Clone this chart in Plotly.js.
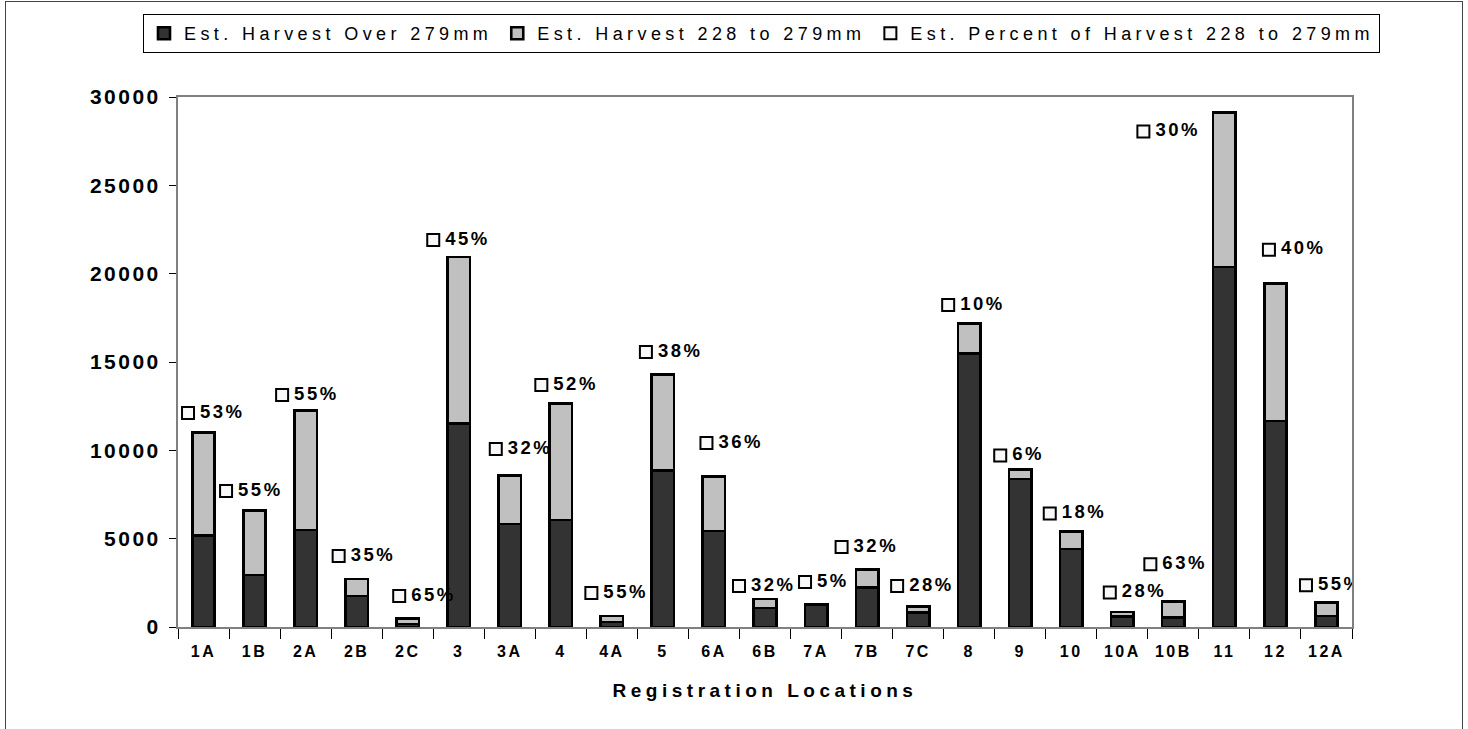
<!DOCTYPE html>
<html>
<head>
<meta charset="utf-8">
<script src="https://cdn.plot.ly/plotly-3.0.1.min.js"></script>
<style>
  html, body { margin: 0; padding: 0; background: #fff; }
  #wrap { position: relative; width: 1468px; height: 729px; overflow: hidden; }
  #chart { position: absolute; left: 0; top: 0; width: 1468px; height: 729px; }
  #frame { position: absolute; left: 5px; top: 1px; width: 1456px; height: 760px;
           border: 1px solid #444; pointer-events: none; }
  /* wide letter spacing of the exported chart text (global so that the
     text measuring node gets it as well) */
  text.legendtext { letter-spacing: 4.4px; }
  g.ytick text { letter-spacing: 2.5px; }
  g.xtick text { letter-spacing: 2.5px; }
  text.xtitle { letter-spacing: 4.5px; }
  g.textpoint text { letter-spacing: 2.5px; }
</style>
</head>
<body>
<div id="wrap">
  <div id="chart"></div>
  <div id="frame"></div>
</div>
<script>
// Registration locations along the x axis
const locations = ['1A','1B','2A','2B','2C','3','3A','4','4A','5','6A','6B',
                   '7A','7B','7C','8','9','10','10A','10B','11','12','12A'];

// Estimated harvest of fish over 279 mm
const harvestOver279 = [5190, 2950, 5480, 1760, 170, 11530, 5830, 6060, 280, 8850, 5440, 1080,
                        1240, 2220, 830, 15470, 8380, 4420, 610, 530, 20380, 11650, 620];

// Estimated harvest of fish 228 to 279 mm
const harvest228to279 = [5810, 3650, 6760, 960, 320, 9420, 2740, 6600, 340, 5450, 3070, 510,
                         65, 1045, 320, 1720, 530, 970, 235, 900, 8750, 7800, 760];

// Percent of the harvest that is 228 to 279 mm
const percent228to279 = [53, 55, 55, 35, 65, 45, 32, 52, 55, 38, 36, 32,
                         5, 32, 28, 10, 6, 18, 28, 63, 30, 40, 55];

// Where each percent label sits: height in harvest units and horizontal
// shift (px) of its key square from the middle of its category
const labelHeight = [12110, 7700, 13130, 4020, 1760, 21900, 10080, 13700, 1920, 15570, 10410, 2320,
                     2550, 4530, 2320, 18220, 9710, 6430, 1950, 3550, 28050, 21360, 2360];
const labelShiftPx = [-15.5, -28.5, -23.5, -18, -8.5, -25.5, -14, -19.5, -20.5, -17, -7.5, -26,
                      -11, -25.5, -21, -21, -20, -21.5, -12.5, -23, -81, -6.5, -20.5];

const W = 1468, H = 729;
const M = { l: 178, r: 116, t: 97, b: 102 };
const plotWidth = W - M.l - M.r;
const plotHeight = H - M.t - M.b;
const catPx = plotWidth / locations.length;

const idx = locations.map((_, i) => i);
const keyX = idx.map(i => i + labelShiftPx[i] / catPx);
const textX = idx.map(i => i + (labelShiftPx[i] + 12) / catPx);

const FONT = 'Liberation Sans, Arial, Helvetica, sans-serif';

const traces = [
  {
    type: 'bar', name: 'Est. Harvest Over 279mm',
    x: locations, y: harvestOver279, width: 0.44,
    marker: { color: '#333333', line: { color: '#000000', width: 2.6 } },
    hoverinfo: 'x+y'
  },
  {
    type: 'bar', name: 'Est. Harvest 228 to 279mm',
    x: locations, y: harvest228to279, width: 0.44,
    marker: { color: '#c0c0c0', line: { color: '#000000', width: 2.6 } },
    hoverinfo: 'x+y'
  },
  {
    type: 'scatter', mode: 'markers', name: 'Est. Percent of Harvest 228 to 279mm',
    x: keyX, y: labelHeight, xaxis: 'x2', yaxis: 'y',
    marker: { symbol: 'square', size: 12, color: '#f8f8f8', line: { color: '#000000', width: 2 } },
    hoverinfo: 'skip'
  },
  {
    type: 'scatter', mode: 'text', showlegend: false,
    x: textX, y: labelHeight, xaxis: 'x2', yaxis: 'y',
    text: percent228to279.map(p => p + '%'),
    textposition: 'middle right',
    textfont: { family: FONT, size: 18.5, color: '#000000', weight: 'bold' },
    hoverinfo: 'skip'
  }
];

const layout = {
  width: W, height: H,
  margin: M,
  paper_bgcolor: '#ffffff', plot_bgcolor: '#ffffff',
  barmode: 'stack',
  showlegend: true,
  legend: {
    orientation: 'h', traceorder: 'normal',
    // legend box starts left of the plot area and sits above it
    x: (143 - M.l) / plotWidth, xanchor: 'left',
    y: (H - M.b - 14) / plotHeight, yanchor: 'top',
    bgcolor: '#ffffff', bordercolor: '#000000', borderwidth: 1,
    font: { family: FONT, size: 18, color: '#000000' },
    itemwidth: 30
  },
  xaxis: {
    type: 'category',
    tickson: 'boundaries',
    ticks: 'outside', ticklen: 10, tickwidth: 1, tickcolor: '#000000',
    showline: true, linecolor: '#808080', linewidth: 2, mirror: true,
    showgrid: false, zeroline: false,
    tickfont: { family: FONT, size: 16, color: '#000000', weight: 'bold' },
    ticklabelstandoff: 9,
    title: { text: 'Registration Locations', standoff: 24,
             font: { family: FONT, size: 19, color: '#000000', weight: 'bold' } },
    fixedrange: true
  },
  xaxis2: {
    type: 'linear', overlaying: 'x', range: [-0.5, locations.length - 0.5],
    visible: false, fixedrange: true
  },
  yaxis: {
    range: [0, 30000], dtick: 5000, tickformat: 'd',
    ticks: 'outside', ticklen: 7, tickwidth: 1, tickcolor: '#000000',
    showline: true, linecolor: '#808080', linewidth: 2, mirror: true,
    showgrid: false, zeroline: false,
    tickfont: { family: FONT, size: 21, color: '#000000', weight: 'bold' },
    ticklabelstandoff: 4,
    fixedrange: true
  }
};

Plotly.newPlot('chart', traces, layout, { displayModeBar: false, staticPlot: true });
</script>
</body>
</html>
